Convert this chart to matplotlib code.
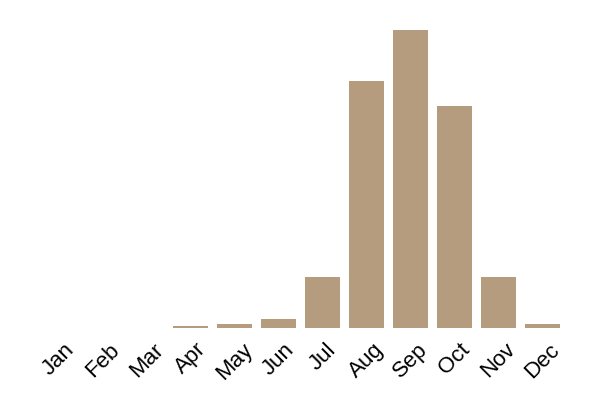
import matplotlib
matplotlib.use("Agg")
from matplotlib import pyplot as plt

months = ['Jan', 'Feb', 'Mar', 'Apr', 'May', 'Jun',
          'Jul', 'Aug', 'Sep', 'Oct', 'Nov', 'Dec']
values = [0, 0, 0, 2, 4, 9, 51, 247, 298, 222, 51, 4]

fig = plt.figure(figsize=(6, 4), dpi=100)
ax = fig.add_axes([36.5 / 600, 72 / 400, 528 / 600, 298 / 400])

ax.bar(range(len(months)), values, width=0.8, color='#b59c7f')
ax.set_xlim(-0.5, len(months) - 0.5)
ax.set_ylim(0, max(values))

ax.set_xticks(range(len(months)))
ax.set_xticklabels(months, rotation=45, ha='center', fontsize=16,
                   family='Liberation Sans')
ax.tick_params(axis='x', length=0, pad=8)
ax.set_yticks([])
for s in ax.spines.values():
    s.set_visible(False)

plt.savefig("out.png", dpi=100)
